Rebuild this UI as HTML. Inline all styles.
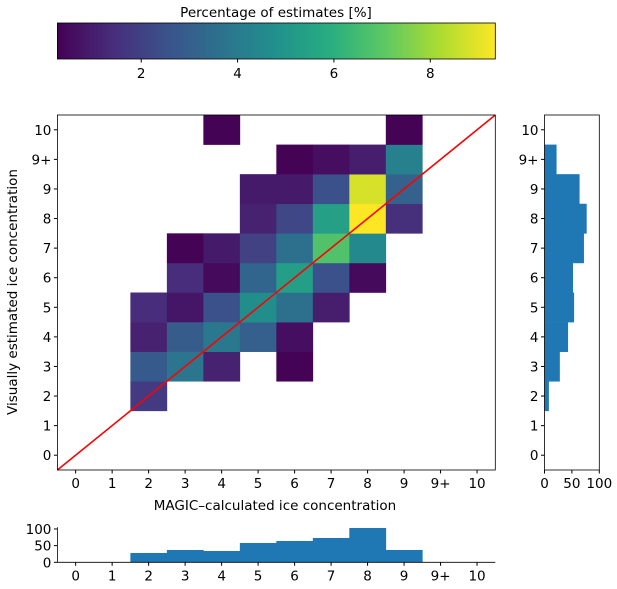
<!DOCTYPE html>
<html><head><meta charset="utf-8"><style>
body{margin:0;background:#fff}
svg{display:block;font-family:"DejaVu Sans","Liberation Sans",sans-serif}
</style></head><body>
<svg id="fig" width="617" height="589" viewBox="0 0 617 589">
<defs><linearGradient id="vir" x1="0" x2="1" y1="0" y2="0">
<stop offset="0" stop-color="#440154"/><stop offset="0.125" stop-color="#472d7b"/><stop offset="0.25" stop-color="#3b528b"/><stop offset="0.375" stop-color="#2c728e"/><stop offset="0.5" stop-color="#21918c"/><stop offset="0.625" stop-color="#28ae80"/><stop offset="0.75" stop-color="#5ec962"/><stop offset="0.875" stop-color="#addc30"/><stop offset="1" stop-color="#fde725"/></linearGradient></defs>
<g id="cbar"></g>
<g id="main"></g>
<g id="side"></g>
<g id="bottom"></g>
</svg>
<script>
const categories = ["0","1","2","3","4","5","6","7","8","9","9+","10"];
// rows: y index 0..11, columns: x index 0..11 (null = empty)
const row2  = [null,null,1.8,null,null,null,null,null,null,null,null,null];
const row3  = [null,null,2.8,3.8,1.1,null,0.3,null,null,null,null,null];
const row4  = [null,null,1.1,2.9,3.9,3.0,0.6,null,null,null,null,null];
const row5  = [null,null,1.4,0.8,2.5,4.7,3.6,1.0,null,null,null,null];
const row6  = [null,null,null,1.4,0.5,3.2,5.3,2.5,0.5,null,null,null];
const row7  = [null,null,null,0.3,0.9,2.0,3.6,6.8,4.5,null,null,null];
const row8  = [null,null,null,null,null,1.1,2.2,5.4,9.35,1.5,null,null];
const row9  = [null,null,null,null,null,0.9,0.9,2.5,8.8,3.1,null,null];
const row9p = [null,null,null,null,null,null,0.3,0.6,1.0,4.2,null,null];
const row10 = [null,null,null,null,0.3,null,null,null,null,0.3,null,null];
const empty = [null,null,null,null,null,null,null,null,null,null,null,null];
const grid = [empty,empty,row2,row3,row4,row5,row6,row7,row8,row9,row9p,row10];
const sideCounts = [0,0,8,28,43,54,52,72,77,64,22,0];
const bottomCounts = [0,0,28,37,34,58,64,73,103,37,0,0];
const cbarTicks = [2,4,6,8];
const vmin = 0.26, vmax = 9.35;

const NS="http://www.w3.org/2000/svg";
const FS=13.5;
function mk(parent,tag,attrs,text){const e=document.createElementNS(NS,tag);for(const k in attrs)e.setAttribute(k,attrs[k]);if(text!==undefined)e.textContent=text;parent.appendChild(e);return e;}
const vir=[[68,1,84],[71,45,123],[59,82,139],[44,114,142],[33,145,140],[40,174,128],[94,201,98],[173,220,48],[253,231,37]];
function cmap(v){let t=Math.max(0,Math.min(1,(v-vmin)/(vmax-vmin)))*8;const i=Math.min(7,Math.floor(t));const f=t-i;const a=vir[i],b=vir[i+1];return `rgb(${a.map((c,j)=>Math.round(c+(b[j]-c)*f)).join(',')})`;}

const L=57.4,R=495.3,T=115,B=470;
const n=categories.length;
const xs=i=>L+(i+0.5)*(R-L)/n;
const ys=i=>B-(i+0.5)*(B-T)/n;
const cw=(R-L)/n, ch=(B-T)/n;

// colorbar
const cb=document.getElementById('cbar');
const cL=57.4,cR=495.3,cT=23,cB=59;
const cx=v=>cL+(v-vmin)/(vmax-vmin)*(cR-cL);
let e=mk(cb,'rect',{x:cL,y:cT,width:cR-cL,height:cB-cT,fill:'url(#vir)',stroke:'#000','stroke-width':0.8});

e=mk(cb,'text',{x:276,y:17,'font-size':FS,'text-anchor':'middle'},'Percentage of estimates [%]');

cbarTicks.forEach(t=>{mk(cb,'line',{x1:cx(t),x2:cx(t),y1:cB,y2:cB+3.5,stroke:'#000'});
e=mk(cb,'text',{x:cx(t),y:cB+19,'font-size':FS,'text-anchor':'middle'},t);
});

// main heatmap
const m=document.getElementById('main');
grid.forEach((row,yi)=>row.forEach((v,xi)=>{if(v===null)return;
e=mk(m,'rect',{x:xs(xi)-cw/2,y:ys(yi)-ch/2,width:cw+0.3,height:ch+0.3,fill:cmap(v)});
}));
e=mk(m,'line',{x1:L,y1:B,x2:R,y2:T,stroke:'#ff0000','stroke-width':1.6});

mk(m,'rect',{x:L,y:T,width:R-L,height:B-T,fill:'none',stroke:'#000','stroke-width':0.8});
categories.forEach((c,i)=>{
mk(m,'line',{x1:xs(i),x2:xs(i),y1:B,y2:B+3.5,stroke:'#000'});
e=mk(m,'text',{x:xs(i),y:B+18,'font-size':FS,'text-anchor':'middle'},c);

mk(m,'line',{x1:L-3.5,x2:L,y1:ys(i),y2:ys(i),stroke:'#000'});
e=mk(m,'text',{x:L-6,y:ys(i)+5,'font-size':FS,'text-anchor':'end'},c);
});
e=mk(m,'text',{x:275,y:510,'font-size':FS,'text-anchor':'middle'},'MAGIC–calculated ice concentration');

e=mk(m,'text',{x:0,y:0,'font-size':FS,'text-anchor':'middle',transform:'translate(17,292) rotate(-90)'},'Visually estimated ice concentration');


// side histogram
const s=document.getElementById('side');
const sL=544.5,sR=599.3;const sx=v=>sL+v/100*(sR-sL);
sideCounts.forEach((v,i)=>{if(!v)return;
e=mk(s,'rect',{x:sL,y:ys(i)-ch/2,width:sx(v)-sL,height:ch+0.3,fill:'#1f77b4'});
});
mk(s,'rect',{x:sL,y:T,width:sR-sL,height:B-T,fill:'none',stroke:'#000','stroke-width':0.8});
categories.forEach((c,i)=>{mk(s,'line',{x1:sL-3.5,x2:sL,y1:ys(i),y2:ys(i),stroke:'#000'});
e=mk(s,'text',{x:sL-6,y:ys(i)+5,'font-size':FS,'text-anchor':'end'},c);
});
[0,50,100].forEach(t=>{mk(s,'line',{x1:sx(t),x2:sx(t),y1:B,y2:B+3.5,stroke:'#000'});
e=mk(s,'text',{x:sx(t),y:B+18,'font-size':FS,'text-anchor':'middle'},t);
});

// bottom histogram
const b=document.getElementById('bottom');
const bB=562.3,bT=527.3,bmax=105;const by=v=>bB-v/bmax*(bB-bT);
bottomCounts.forEach((v,i)=>{if(!v)return;
e=mk(b,'rect',{x:xs(i)-cw/2,y:by(v),width:cw+0.3,height:bB-by(v),fill:'#1f77b4'});
});
mk(b,'line',{x1:L,x2:L,y1:bT,y2:bB,stroke:'#000','stroke-width':0.8});
mk(b,'line',{x1:L,x2:R,y1:bB,y2:bB,stroke:'#000','stroke-width':0.8});
[0,50,100].forEach(t=>{mk(b,'line',{x1:L-3.5,x2:L,y1:by(t),y2:by(t),stroke:'#000'});
e=mk(b,'text',{x:L-6,y:by(t)+5,'font-size':FS,'text-anchor':'end'},t);
});
categories.forEach((c,i)=>{mk(b,'line',{x1:xs(i),x2:xs(i),y1:bB,y2:bB+3.5,stroke:'#000'});
e=mk(b,'text',{x:xs(i),y:bB+18,'font-size':FS,'text-anchor':'middle'},c);
});
</script>
</body></html>
